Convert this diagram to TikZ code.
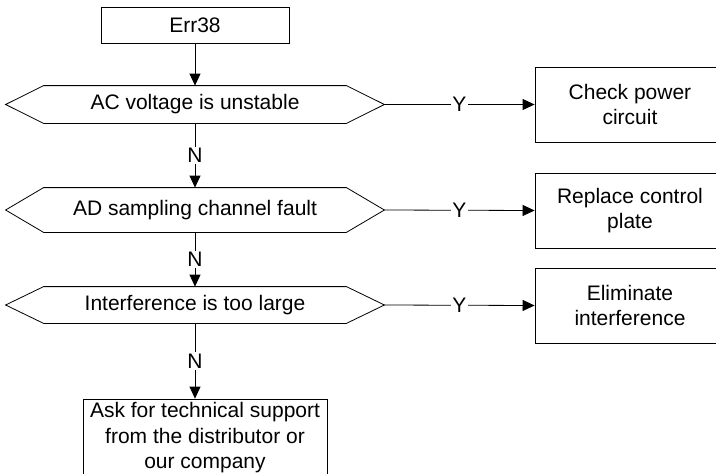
\documentclass[tikz,border=0pt]{standalone}
\usepackage{fontspec}
\setmainfont{Liberation Sans}
\usetikzlibrary{arrows.meta}

\begin{document}
\begin{tikzpicture}[
  x=1pt, y=-1pt,
  font=\fontsize{21}{25}\selectfont,
  line width=0.8pt,
  box/.style={draw, rectangle, inner sep=0pt, align=center},
  test/.style={rectangle, inner sep=0pt, minimum width=302pt},
  arr/.style={-{Triangle[length=12pt,width=11pt]}},
  lbl/.style={fill=white, inner sep=1.5pt},
]
\useasboundingbox (0,0) rectangle (716,474);
\clip (0,0) rectangle (716,474);

% Start
\node[box, minimum width=188pt, minimum height=36pt] (err) at (195,25) {Err38};

% Tests
\node[test, minimum height=37pt] (h1) at (195,104.5) {AC voltage is unstable};
\node[test, minimum height=44pt] (h2) at (195,210) {AD sampling channel fault};
\node[test, minimum height=36pt] (h3) at (195,305) {Interference is too large};
\foreach \h in {h1,h2,h3} {
  \coordinate (\h r) at ([xshift=38pt]\h.east);
  \coordinate (\h l) at ([xshift=-38pt]\h.west);
  \draw (\h.north west) -- (\h.north east) -- (\h r) -- (\h.south east)
    -- (\h.south west) -- (\h l) -- cycle;
}

% Actions
\node[box, minimum width=190pt, minimum height=75pt] (b1) at (630,104.5) {Check power\\circuit};
\node[box, minimum width=190pt, minimum height=75pt] (b2) at (630,210.5) {Replace control\\plate};
\node[box, minimum width=190pt, minimum height=75pt] (b3) at (630,305.5) {Eliminate\\interference};
\node[box, minimum width=244pt, minimum height=78pt, font=\fontsize{21}{25.5}\selectfont]
  (fin) at (205,438) {Ask for technical support\\from the distributor or\\our company};

% Connectors
\draw[arr] (err) -- (h1);
\draw[arr] (h1) -- node[lbl] {N} (h2);
\draw[arr] (h2) -- node[lbl] {N} (h3);
\draw[arr] (h3.south) -- node[lbl] {N} (h3.south |- fin.north);
\draw[arr] (h1r) -- node[lbl] {Y} (b1.west);
\draw[arr] (h2r) -- node[lbl] {Y} (b2.west);
\draw[arr] (h3r) -- node[lbl] {Y} (b3.west);

\end{tikzpicture}
\end{document}
